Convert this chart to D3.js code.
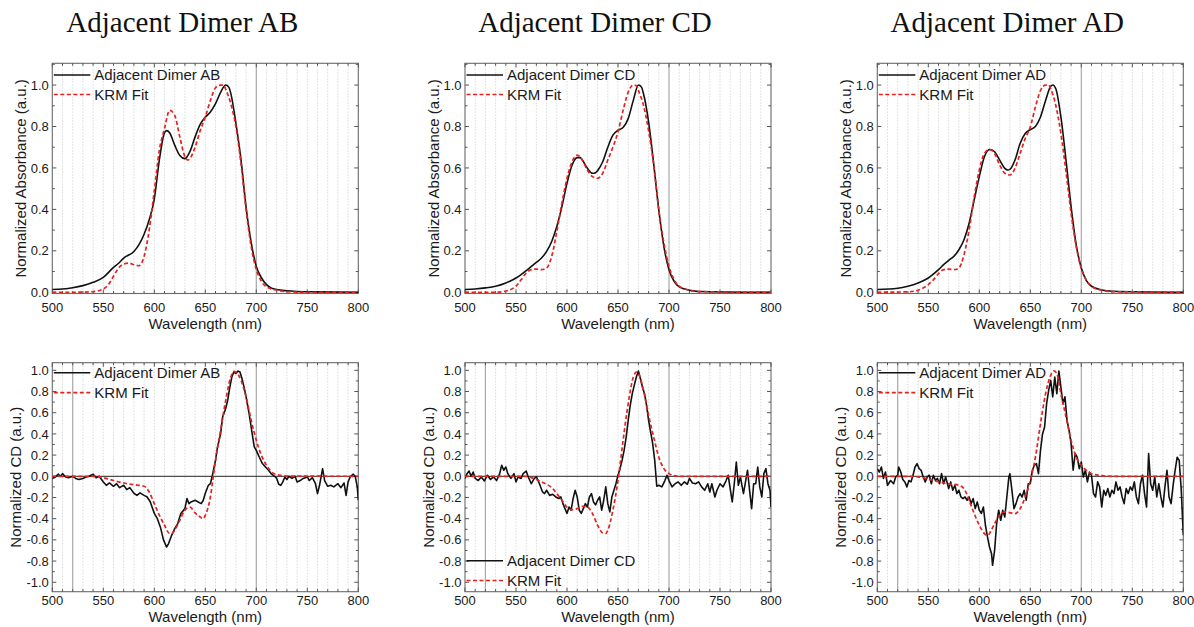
<!DOCTYPE html>
<html>
<head>
<meta charset="utf-8">
<script src="https://cdn.jsdelivr.net/npm/d3@7"></script>
<style>
  html, body { margin: 0; padding: 0; background: #fff; }
  svg { display: block; }
  .tick-label { font-family: "Liberation Sans", Arial, sans-serif; font-size: 13px; fill: #1a1a1a; }
  .axis-title { font-family: "Liberation Sans", Arial, sans-serif; font-size: 15px; fill: #1a1a1a; }
  .legend-text { font-family: "Liberation Sans", Arial, sans-serif; font-size: 15px; fill: #1a1a1a; }
  .panel-title { font-family: "Liberation Serif", "Times New Roman", serif; font-size: 29px; fill: #111; }
</style>
</head>
<body>
<svg id="chart" width="1194" height="627"></svg>
<script>
// ---- Data: [wavelength (nm), normalized value] ----
const panelTitles = ["Adjacent Dimer AB", "Adjacent Dimer CD", "Adjacent Dimer AD"];
const fitLabel = "KRM Fit";
const xTicks = [500, 550, 600, 650, 700, 750, 800];
const absTicks = [0.0, 0.2, 0.4, 0.6, 0.8, 1.0];
const cdTicks = [-1.0, -0.8, -0.6, -0.4, -0.2, 0.0, 0.2, 0.4, 0.6, 0.8, 1.0];

// Absorbance, dimer AB
const absAB = [[500,0.013],[510,0.016],[520,0.022],[530,0.032],[540,0.048],[550,0.072],[560,0.12],[565,0.14],[570,0.165],[580,0.197],[585,0.23],[590,0.28],[595,0.35],[600,0.45],[605,0.64],[610,0.77],[612,0.78],[615,0.77],[620,0.71],[625,0.66],[630,0.645],[635,0.68],[640,0.75],[645,0.81],[650,0.845],[655,0.87],[660,0.91],[665,0.965],[670,1.0],[673,0.99],[675,0.96],[680,0.815],[685,0.64],[690,0.41],[695,0.24],[700,0.125],[705,0.07],[710,0.037],[715,0.02],[720,0.013],[730,0.007],[740,0.004],[760,0.002],[800,0.0]];
const absFitAB = [[500,0.0],[520,0.0],[540,0.003],[550,0.016],[555,0.037],[560,0.077],[565,0.117],[570,0.136],[575,0.141],[580,0.133],[585,0.128],[590,0.173],[595,0.30],[600,0.49],[605,0.686],[610,0.79],[615,0.878],[620,0.854],[625,0.75],[630,0.654],[633,0.638],[635,0.646],[640,0.70],[645,0.78],[650,0.846],[655,0.926],[660,0.987],[665,1.0],[668,1.0],[670,0.98],[675,0.91],[680,0.80],[685,0.62],[690,0.40],[695,0.22],[700,0.11],[705,0.053],[710,0.026],[720,0.01],[730,0.003],[750,0.0],[800,0.0]];

// Absorbance, dimer CD
const absCD = [[500,0.013],[510,0.016],[520,0.021],[530,0.029],[540,0.045],[550,0.069],[555,0.085],[560,0.104],[565,0.125],[570,0.144],[575,0.165],[580,0.197],[585,0.245],[590,0.317],[595,0.413],[600,0.526],[605,0.614],[610,0.65],[613,0.65],[615,0.638],[620,0.598],[625,0.574],[628,0.577],[630,0.587],[635,0.63],[640,0.70],[645,0.758],[650,0.782],[655,0.795],[660,0.838],[665,0.926],[670,1.0],[673,0.99],[675,0.958],[680,0.822],[685,0.62],[690,0.397],[695,0.22],[700,0.109],[705,0.053],[710,0.026],[720,0.01],[730,0.004],[800,0.0]];
const absFitCD = [[500,0.0],[530,0.0],[540,0.006],[550,0.03],[555,0.06],[560,0.093],[565,0.109],[570,0.112],[575,0.109],[580,0.117],[585,0.173],[590,0.293],[595,0.43],[600,0.55],[605,0.63],[610,0.662],[615,0.638],[620,0.59],[625,0.558],[630,0.55],[635,0.574],[640,0.638],[645,0.70],[650,0.774],[655,0.878],[660,0.966],[665,1.0],[668,0.997],[670,0.974],[675,0.902],[680,0.78],[685,0.614],[690,0.397],[695,0.237],[700,0.125],[705,0.061],[710,0.029],[720,0.01],[730,0.003],[800,0.0]];

// Absorbance, dimer AD
const absAD = [[500,0.013],[520,0.019],[530,0.029],[540,0.045],[550,0.069],[560,0.109],[565,0.133],[570,0.154],[575,0.173],[580,0.205],[585,0.253],[590,0.333],[595,0.446],[600,0.558],[605,0.654],[610,0.689],[613,0.686],[615,0.678],[620,0.638],[625,0.598],[628,0.59],[630,0.593],[635,0.638],[640,0.718],[645,0.766],[650,0.785],[655,0.80],[660,0.846],[665,0.926],[670,0.994],[672,1.0],[675,0.982],[680,0.846],[685,0.638],[690,0.413],[695,0.229],[700,0.117],[705,0.056],[710,0.029],[720,0.011],[730,0.005],[800,0.0]];
const absFitAD = [[500,0.0],[530,0.002],[540,0.01],[550,0.037],[555,0.06],[560,0.09],[565,0.109],[570,0.112],[575,0.109],[580,0.117],[585,0.181],[590,0.30],[595,0.46],[600,0.59],[605,0.67],[610,0.689],[615,0.67],[620,0.614],[625,0.574],[630,0.566],[635,0.598],[640,0.67],[645,0.742],[650,0.798],[655,0.894],[660,0.974],[665,1.0],[668,1.0],[670,0.982],[675,0.902],[680,0.766],[685,0.582],[690,0.381],[695,0.221],[700,0.117],[705,0.058],[710,0.029],[720,0.01],[730,0.003],[800,0.0]];

// Circular dichroism, dimer AB
const cdAB = [[500,-0.02],[503,-0.006],[506,0.02],[508,0.0],[510,0.025],[513,-0.006],[516,-0.013],[520,0.0],[523,-0.02],[526,-0.03],[530,-0.02],[533,-0.006],[536,0.0],[540,0.02],[543,-0.013],[546,0.0],[550,-0.053],[553,-0.085],[556,-0.063],[560,-0.094],[563,-0.07],[566,-0.107],[570,-0.085],[573,-0.126],[576,-0.107],[580,-0.16],[583,-0.18],[586,-0.157],[590,-0.18],[593,-0.195],[596,-0.24],[600,-0.35],[603,-0.40],[606,-0.48],[609,-0.60],[612,-0.667],[614,-0.635],[617,-0.557],[620,-0.494],[623,-0.446],[626,-0.352],[630,-0.305],[632,-0.21],[634,-0.258],[636,-0.242],[640,-0.226],[643,-0.242],[646,-0.258],[648,-0.226],[650,-0.16],[653,-0.085],[655,-0.07],[657,0.01],[658,0.057],[660,0.15],[662,0.277],[665,0.40],[667,0.56],[670,0.64],[672,0.72],[674,0.84],[676,0.937],[678,0.985],[680,0.97],[682,0.994],[684,0.985],[686,0.92],[688,0.84],[690,0.75],[693,0.59],[696,0.40],[698,0.277],[700,0.245],[703,0.18],[706,0.12],[709,0.088],[712,0.057],[715,0.02],[718,0.0],[720,-0.02],[722,-0.075],[724,-0.085],[726,-0.053],[728,-0.006],[730,-0.03],[732,0.0],[735,-0.02],[738,0.0],[740,-0.053],[743,-0.04],[746,-0.02],[750,-0.006],[752,-0.04],[755,-0.013],[758,-0.07],[760,-0.163],[762,-0.085],[765,0.072],[767,-0.04],[770,-0.094],[773,-0.085],[776,-0.1],[780,-0.07],[783,-0.107],[786,-0.063],[788,-0.18],[790,-0.053],[792,-0.006],[795,0.02],[797,0.0],[799,-0.1],[800,-0.226]];
const cdFitAB = [[500,0.0],[540,0.0],[550,-0.013],[560,-0.04],[570,-0.063],[580,-0.079],[590,-0.094],[595,-0.148],[600,-0.258],[605,-0.368],[610,-0.462],[615,-0.54],[618,-0.535],[620,-0.51],[625,-0.415],[630,-0.32],[635,-0.29],[640,-0.346],[645,-0.384],[648,-0.40],[650,-0.368],[655,-0.195],[658,0.01],[660,0.15],[665,0.434],[670,0.717],[675,0.937],[678,0.99],[680,0.984],[685,0.906],[690,0.748],[695,0.528],[700,0.34],[705,0.198],[710,0.104],[715,0.041],[720,0.016],[730,0.003],[800,0.0]];

// Circular dichroism, dimer CD
const cdCD = [[500,-0.02],[502,0.025],[504,0.05],[506,0.0],[508,0.04],[510,-0.02],[513,-0.04],[516,-0.006],[519,-0.044],[522,0.01],[525,-0.03],[528,-0.006],[531,-0.04],[534,0.025],[536,0.104],[538,0.057],[540,0.088],[542,0.025],[545,-0.02],[548,0.025],[550,-0.053],[552,-0.006],[555,-0.02],[557,0.025],[560,0.05],[562,-0.006],[565,-0.07],[568,-0.02],[570,-0.006],[573,-0.07],[576,-0.148],[578,-0.163],[580,-0.132],[583,-0.18],[586,-0.17],[589,-0.195],[592,-0.21],[594,-0.195],[596,-0.258],[598,-0.305],[600,-0.35],[602,-0.29],[604,-0.32],[606,-0.21],[608,-0.132],[610,-0.195],[612,-0.32],[614,-0.35],[616,-0.305],[618,-0.258],[620,-0.29],[622,-0.195],[624,-0.163],[626,-0.242],[628,-0.27],[630,-0.226],[632,-0.195],[634,-0.32],[636,-0.226],[638,-0.1],[640,-0.258],[642,-0.336],[644,-0.195],[646,-0.132],[648,-0.07],[650,0.01],[652,0.072],[654,0.15],[656,0.245],[658,0.37],[660,0.528],[662,0.67],[664,0.78],[666,0.86],[668,0.937],[670,0.994],[672,0.92],[674,0.84],[676,0.78],[678,0.67],[680,0.528],[682,0.418],[684,0.308],[686,0.15],[688,-0.094],[690,-0.085],[693,-0.1],[696,-0.04],[698,0.01],[700,-0.04],[703,-0.1],[706,-0.07],[709,-0.053],[712,-0.085],[715,-0.053],[718,-0.075],[720,-0.02],[723,-0.063],[726,-0.07],[729,-0.053],[732,-0.1],[735,-0.132],[738,-0.07],[740,-0.148],[742,-0.07],[745,-0.195],[747,-0.132],[750,-0.07],[753,-0.1],[756,-0.04],[758,0.01],[760,-0.116],[762,-0.242],[764,-0.07],[766,0.135],[768,-0.085],[770,-0.006],[773,-0.163],[775,-0.053],[777,0.057],[779,-0.132],[781,-0.305],[783,-0.07],[785,-0.07],[787,0.088],[789,-0.1],[791,-0.195],[793,0.025],[795,0.072],[797,-0.07],[799,-0.132],[800,-0.29]];
const cdFitCD = [[500,0.0],[560,0.0],[565,-0.013],[570,-0.03],[575,-0.053],[580,-0.075],[585,-0.107],[590,-0.163],[595,-0.226],[600,-0.29],[605,-0.315],[610,-0.305],[615,-0.283],[620,-0.29],[625,-0.352],[630,-0.462],[635,-0.535],[638,-0.54],[640,-0.51],[645,-0.32],[650,-0.04],[655,0.34],[660,0.686],[665,0.937],[668,0.984],[670,0.97],[675,0.811],[680,0.575],[685,0.37],[690,0.18],[695,0.072],[700,0.025],[705,0.006],[710,0.0],[800,0.0]];

// Circular dichroism, dimer AD
const cdAD = [[500,0.072],[502,0.04],[504,0.088],[506,-0.02],[508,0.04],[510,-0.085],[513,-0.04],[516,-0.07],[518,-0.006],[520,0.01],[521,0.088],[523,0.04],[525,-0.03],[527,-0.053],[529,-0.1],[531,-0.04],[533,-0.053],[535,0.01],[537,0.088],[539,0.12],[541,0.072],[543,0.057],[545,-0.006],[547,-0.053],[549,-0.006],[551,0.01],[553,-0.07],[555,0.01],[557,-0.04],[559,-0.02],[561,-0.07],[563,0.025],[565,-0.07],[567,-0.006],[570,-0.116],[572,-0.053],[574,-0.132],[576,-0.085],[578,-0.163],[580,-0.132],[582,-0.195],[584,-0.21],[586,-0.195],[588,-0.226],[590,-0.195],[592,-0.258],[594,-0.21],[596,-0.305],[598,-0.242],[600,-0.32],[602,-0.35],[604,-0.29],[606,-0.462],[608,-0.572],[610,-0.667],[612,-0.73],[613,-0.84],[615,-0.70],[617,-0.446],[619,-0.32],[621,-0.415],[623,-0.32],[625,-0.384],[627,-0.195],[629,-0.006],[630,0.025],[632,-0.132],[634,-0.305],[636,-0.258],[638,-0.195],[640,-0.163],[642,-0.195],[644,-0.132],[646,-0.226],[648,-0.07],[650,-0.07],[652,0.057],[654,0.104],[656,0.12],[658,0.025],[660,0.245],[662,0.40],[664,0.465],[666,0.686],[668,0.81],[670,0.906],[672,0.75],[674,0.937],[676,0.78],[678,0.994],[680,0.84],[682,0.686],[684,0.75],[686,0.528],[688,0.434],[690,0.308],[692,0.057],[694,0.214],[696,0.18],[698,0.072],[700,0.135],[702,-0.006],[704,0.057],[706,-0.053],[708,0.04],[710,0.01],[712,-0.163],[714,-0.195],[716,-0.053],[718,-0.1],[720,-0.29],[722,-0.132],[724,-0.18],[726,-0.116],[728,-0.195],[730,-0.132],[732,-0.163],[734,-0.053],[736,-0.132],[738,-0.1],[740,-0.195],[742,-0.258],[744,-0.116],[746,-0.163],[748,-0.1],[750,-0.132],[752,-0.053],[754,-0.195],[756,-0.258],[758,-0.07],[760,0.01],[762,-0.163],[764,-0.29],[766,0.214],[768,-0.07],[770,-0.132],[772,-0.006],[774,-0.195],[776,-0.07],[778,-0.195],[780,-0.29],[782,-0.1],[784,0.057],[786,-0.195],[788,-0.258],[790,-0.085],[792,0.057],[794,0.18],[796,0.15],[798,-0.132],[800,-0.557]];
const cdFitAD = [[500,0.0],[530,0.0],[540,-0.006],[550,-0.025],[560,-0.053],[570,-0.07],[580,-0.085],[585,-0.116],[590,-0.226],[595,-0.352],[600,-0.462],[605,-0.54],[608,-0.557],[610,-0.54],[615,-0.446],[620,-0.368],[625,-0.336],[630,-0.343],[635,-0.352],[640,-0.305],[645,-0.195],[650,-0.04],[655,0.18],[660,0.497],[665,0.78],[670,0.953],[673,0.994],[676,0.97],[680,0.78],[685,0.56],[690,0.34],[695,0.18],[700,0.104],[705,0.057],[710,0.025],[720,0.006],[730,0.0],[800,0.0]];

// ---- Layout ----
const svg = d3.select("#chart");
const panelLefts = [52.3, 465, 877.3];
const plotW = 306;

const rows = [
  { kind: "abs", top: 63.3, bottom: 293.5, domain: [-0.006, 1.105], ticks: absTicks,
    yTitle: "Normalized Absorbance (a.u.)", yTitleOff: 26.5, tickBase: 311.5, xTitleBase: 328.5,
    solidLines: [700],
    series: [[absAB, absFitAB], [absCD, absFitCD], [absAD, absFitAD]] },
  { kind: "cd", top: 362.7, bottom: 591.7, domain: [-1.089, 1.072], ticks: cdTicks,
    yTitle: "Normalized CD (a.u.)", yTitleOff: 31, tickBase: 604.5, xTitleBase: 621.5,
    solidLines: [520, 700],
    series: [[cdAB, cdFitAB], [cdCD, cdFitCD], [cdAD, cdFitAD]] }
];

// Panel titles
panelTitles.forEach((t, i) => {
  svg.append("text").attr("class", "panel-title")
    .attr("x", panelLefts[i] + 130).attr("y", 32)
    .attr("text-anchor", "middle").text(t);
});

rows.forEach((row, ri) => {
  panelLefts.forEach((left, pi) => {
    const x = d3.scaleLinear().domain([500, 800]).range([left, left + plotW]);
    const y = d3.scaleLinear().domain(row.domain).range([row.bottom, row.top]);
    const g = svg.append("g");
    const clipId = `clip-${ri}-${pi}`;
    svg.append("clipPath").attr("id", clipId).append("rect")
      .attr("x", left).attr("y", row.top).attr("width", plotW).attr("height", row.bottom - row.top);

    // vertical grid every 10 nm
    const minor = d3.range(510, 800, 10);
    g.selectAll(".vgrid").data(minor).join("line")
      .attr("x1", d => x(d)).attr("x2", d => x(d))
      .attr("y1", row.top).attr("y2", row.bottom)
      .attr("stroke", d => row.solidLines.includes(d) ? "#a8a8a8" : "#cfcfcf")
      .attr("stroke-width", d => row.solidLines.includes(d) ? 1.2 : 0.8)
      .attr("stroke-dasharray", d => row.solidLines.includes(d) ? null : "1.5,1.5");

    // zero line for CD
    if (row.kind === "cd") {
      g.append("line").attr("x1", left).attr("x2", left + plotW)
        .attr("y1", y(0)).attr("y2", y(0))
        .attr("stroke", "#222").attr("stroke-width", 1);
    }

    // frame
    g.append("rect").attr("x", left).attr("y", row.top)
      .attr("width", plotW).attr("height", row.bottom - row.top)
      .attr("fill", "none").attr("stroke", "#6a6a6a").attr("stroke-width", 1.1);

    // inward ticks on all sides
    const tickColor = "#555";
    const xMinor = d3.range(500, 801, 10);
    xMinor.forEach(v => {
      const len = v % 50 === 0 ? 4 : 2.5;
      g.append("line").attr("x1", x(v)).attr("x2", x(v)).attr("y1", row.bottom).attr("y2", row.bottom - len)
        .attr("stroke", tickColor).attr("stroke-width", 1);
      g.append("line").attr("x1", x(v)).attr("x2", x(v)).attr("y1", row.top).attr("y2", row.top + len)
        .attr("stroke", tickColor).attr("stroke-width", 1);
    });
    const yStep = 0.1;
    const yMinor = d3.range(Math.ceil(row.domain[0] / yStep) * yStep, row.domain[1], yStep);
    yMinor.forEach(v => {
      const isMajor = row.ticks.some(t => Math.abs(t - v) < 1e-6);
      const len = isMajor ? 4 : 2.5;
      g.append("line").attr("x1", left).attr("x2", left + len).attr("y1", y(v)).attr("y2", y(v))
        .attr("stroke", tickColor).attr("stroke-width", 1);
      g.append("line").attr("x1", left + plotW).attr("x2", left + plotW - len).attr("y1", y(v)).attr("y2", y(v))
        .attr("stroke", tickColor).attr("stroke-width", 1);
    });

    // tick labels
    g.selectAll(".xl").data(xTicks).join("text").attr("class", "tick-label")
      .attr("x", d => x(d)).attr("y", row.tickBase).attr("text-anchor", "middle").text(d => d);
    g.selectAll(".yl").data(row.ticks).join("text").attr("class", "tick-label")
      .attr("x", left - 3.5).attr("y", d => y(d) + 4.6).attr("text-anchor", "end")
      .text(d => d3.format(".1f")(d).replace("−", "-"));

    // axis titles
    g.append("text").attr("class", "axis-title")
      .attr("x", left + plotW / 2).attr("y", row.xTitleBase).attr("text-anchor", "middle")
      .text("Wavelength (nm)");
    const cy = (row.top + row.bottom) / 2;
    g.append("text").attr("class", "axis-title")
      .attr("transform", `translate(${left - row.yTitleOff},${cy}) rotate(-90)`)
      .attr("text-anchor", "middle").text(row.yTitle);

    // curves
    const [meas, fit] = row.series[pi];
    const curve = row.kind === "abs" ? d3.curveMonotoneX : d3.curveLinear;
    const line = d3.line().x(d => x(d[0])).y(d => y(d[1])).curve(curve);
    const fitLine = d3.line().x(d => x(d[0])).y(d => y(d[1])).curve(d3.curveMonotoneX);
    const plot = g.append("g").attr("clip-path", `url(#${clipId})`);
    plot.append("path").datum(meas).attr("d", line)
      .attr("fill", "none").attr("stroke", "#111").attr("stroke-width", 1.6)
      .attr("stroke-linejoin", "round");
    plot.append("path").datum(fit).attr("d", fitLine)
      .attr("fill", "none").attr("stroke", "#e3231f").attr("stroke-width", 1.7)
      .attr("stroke-dasharray", "4,2.5");

    // legend
    let ly1, ly2;
    if (row.kind === "abs") { ly1 = 75; ly2 = 94.5; }
    else if (pi === 1) { ly1 = 560.7; ly2 = 580.5; }
    else { ly1 = 372.7; ly2 = 392.7; }
    const lx0 = left + 1.5, lx1 = left + 38, tx = left + 42;
    g.append("line").attr("x1", lx0).attr("x2", lx1).attr("y1", ly1).attr("y2", ly1)
      .attr("stroke", "#111").attr("stroke-width", 1.5);
    g.append("text").attr("class", "legend-text").attr("x", tx).attr("y", ly1 + 5.3)
      .text(panelTitles[pi]);
    g.append("line").attr("x1", lx0).attr("x2", lx1).attr("y1", ly2).attr("y2", ly2)
      .attr("stroke", "#e3231f").attr("stroke-width", 1.7).attr("stroke-dasharray", "4,2.5");
    g.append("text").attr("class", "legend-text").attr("x", tx).attr("y", ly2 + 5.3)
      .text(fitLabel);
  });
});
</script>
</body>
</html>
